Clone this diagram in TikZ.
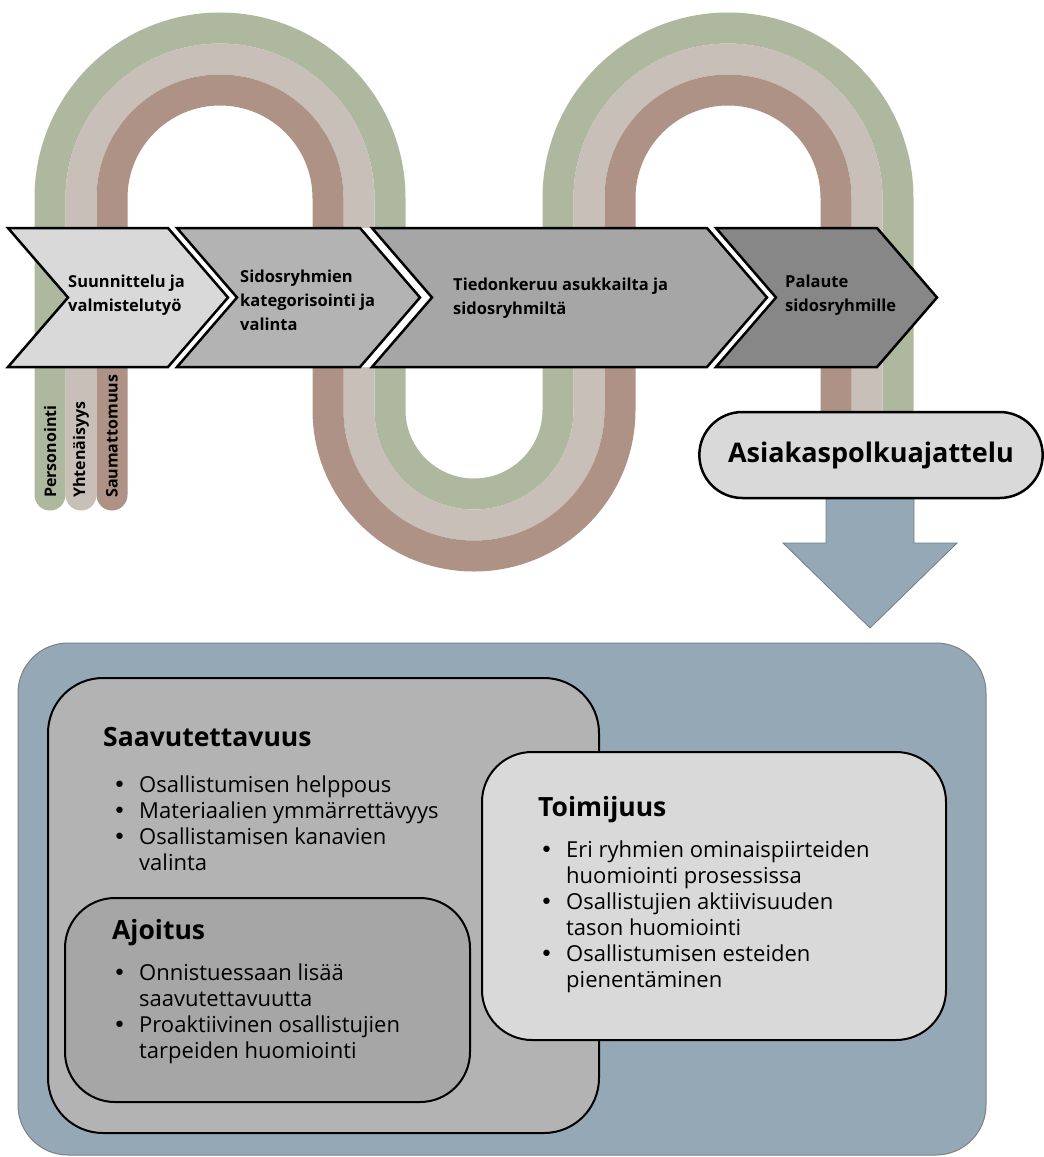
\documentclass[tikz,border=0pt]{standalone}
\usepackage{fontspec}
\setmainfont{Open Sans}
\newfontfamily\dejavu{DejaVu Sans}
\usetikzlibrary{positioning,shapes.misc}

\definecolor{bandgreen}{HTML}{AEB89F}
\definecolor{bandbeige}{HTML}{C7BFB8}
\definecolor{bandbrown}{HTML}{AD9285}
\definecolor{greyA}{HTML}{D9D9D9}
\definecolor{greyB}{HTML}{B3B3B3}
\definecolor{greyC}{HTML}{A6A6A6}
\definecolor{greyD}{HTML}{878787}
\definecolor{slate}{HTML}{95A8B6}

\newcommand{\bul}{\makebox[27pt][l]{\hspace{1pt}{\dejavu •}}}
\newcommand{\ind}{\hspace*{27pt}}

\begin{document}
\begin{tikzpicture}[x=1pt, y=1pt,
    band/.style={line width=31pt, line cap=round},
    chev/.style={draw, line width=2.5pt, line join=miter},
    steptext/.style={anchor=west, inner sep=0pt, align=left,
                     font=\fontsize{16.5}{24}\selectfont\bfseries},
    leglabel/.style={rotate=90, anchor=west, inner sep=0pt,
                     font=\fontsize{16}{18}\selectfont\bfseries},
    pill/.style={rounded rectangle, draw, line width=2.5pt, fill=greyA,
                 minimum width=350pt, minimum height=86pt,
                 font=\fontsize{27}{32}\selectfont\bfseries},
    panel/.style={draw, line width=2pt, rounded corners=50pt},
    head/.style={anchor=west, inner sep=0pt, font=\fontsize{26.5}{30}\selectfont\bfseries},
    blist/.style={anchor=north west, inner sep=0pt, align=left,
                  font=\fontsize{22}{26}\selectfont}
]
    \useasboundingbox (0,0) rectangle (1044,-1157);

    % the three winding bands behind the process row
    \draw[band, bandgreen] (50,-495) -- (50,-198) arc[start angle=180, end angle=0, radius=170]
        -- (390,-410) arc[start angle=180, end angle=360, radius=84]
        -- (558,-198) arc[start angle=180, end angle=0, radius=170] -- (898,-470);
    \draw[band, bandbeige] (81,-495) -- (81,-198) arc[start angle=180, end angle=0, radius=139]
        -- (359,-410) arc[start angle=180, end angle=360, radius=115]
        -- (589,-198) arc[start angle=180, end angle=0, radius=139] -- (867,-470);
    \draw[band, bandbrown] (112,-495) -- (112,-198) arc[start angle=180, end angle=0, radius=108]
        -- (328,-410) arc[start angle=180, end angle=360, radius=146]
        -- (620,-198) arc[start angle=180, end angle=0, radius=108] -- (836,-470);

    \node[leglabel] (l1) at (50,-498)  {Personointi};
    \node[leglabel] (l2) at (81,-498)  {Yhtenäisyys};
    \node[leglabel] (l3) at (112,-498) {Saumattomuus};

    % white gaps between the chevrons
    \fill[white] (168,-228) -- (228,-297.5) -- (168,-367) -- (177,-367) -- (237,-297.5) -- (177,-228) -- cycle;
    \fill[white] (360,-228) -- (420,-297.5) -- (360,-367) -- (372,-367) -- (432,-297.5) -- (372,-228) -- cycle;
    \fill[white] (707,-228) -- (767,-297.5) -- (707,-367) -- (716,-367) -- (776,-297.5) -- (716,-228) -- cycle;

    % process row
    \filldraw[chev, fill=greyA] (8,-228) -- (168,-228) -- (228,-297.5) -- (168,-367) -- (8,-367) -- (68,-297.5) -- cycle;
    \filldraw[chev, fill=greyB] (177,-228) -- (360,-228) -- (420,-297.5) -- (360,-367) -- (177,-367) -- (237,-297.5) -- cycle;
    \filldraw[chev, fill=greyC] (372,-228) -- (707,-228) -- (767,-297.5) -- (707,-367) -- (372,-367) -- (432,-297.5) -- cycle;
    \filldraw[chev, fill=greyD] (716,-228) -- (877,-228) -- (937,-297.5) -- (877,-367) -- (716,-367) -- (776,-297.5) -- cycle;

    \node[steptext] (s1) at (68,-295)    {Suunnittelu ja\\valmistelutyö};
    \node[steptext] (s2) at (240,-300)   {Sidosryhmien\\kategorisointi ja\\valinta};
    \node[steptext] (s3) at (453,-298.5) {Tiedonkeruu asukkailta ja\\sidosryhmiltä};
    \node[steptext] (s4) at (785,-295)   {Palaute\\sidosryhmille};

    % big arrow down from the pill
    \filldraw[fill=slate, draw=slate!75!black, line width=0.8pt]
        (826,-490) -- (826,-543) -- (783,-543) -- (870,-628) -- (957,-543) -- (914,-543) -- (914,-490) -- cycle;
    \node[pill] (asiakas) at (871,-455) {Asiakaspolkuajattelu};

    % lower panel
    \node[panel, fill=slate, draw=gray, line width=1pt, minimum width=968pt, minimum height=512pt] (outer) at (502,-899) {};
    \node[panel, fill=greyB, rounded corners=55pt, minimum width=551pt, minimum height=455pt] (saav) at (323.5,-905.5) {};
    \node[panel, fill=greyC, minimum width=405pt, minimum height=204pt] (ajoitus) at (267.5,-1000) {};
    \node[panel, fill=greyA, minimum width=464pt, minimum height=288pt] (toimi) at (714,-896) {};

    \node[head] (saavh) at (103,-737) {Saavutettavuus};
    \node[blist] (saavb) at (112,-775.5) {\bul Osallistumisen helppous\\\bul Materiaalien ymmärrettävyys\\\bul Osallistamisen kanavien\\\ind valinta};

    \node[head] (ajoh) at (112,-933) {Ajoitus};
    \node[blist] (ajob) at (112,-963.5) {\bul Onnistuessaan lisää\\\ind saavutettavuutta\\\bul Proaktiivinen osallistujien\\\ind tarpeiden huomiointi};

    \node[head] (toimih) at (538,-810) {Toimijuus};
    \node[blist] (toimib) at (539,-840.5) {\bul Eri ryhmien ominaispiirteiden\\\ind huomiointi prosessissa\\\bul Osallistujien aktiivisuuden\\\ind tason huomiointi\\\bul Osallistumisen esteiden\\\ind pienentäminen};
\end{tikzpicture}
\end{document}
